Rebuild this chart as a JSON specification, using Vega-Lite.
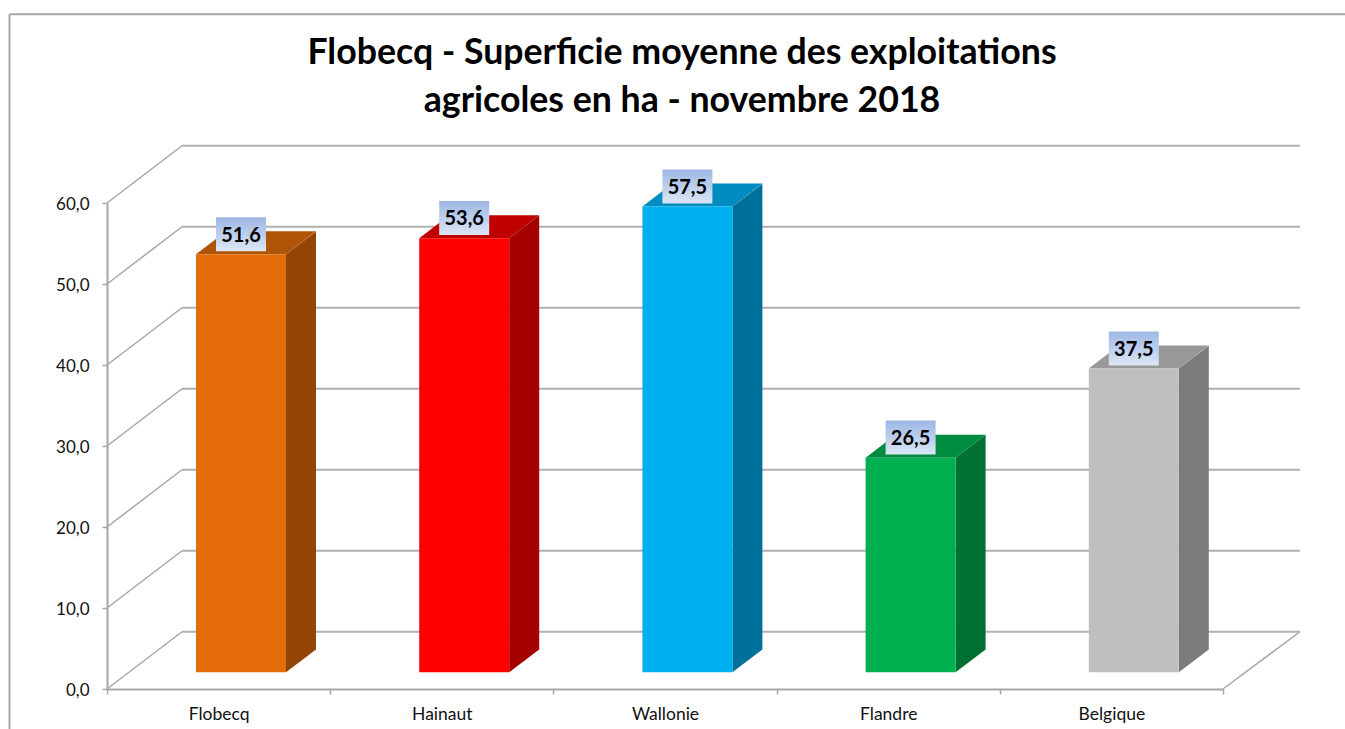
{
"$schema":"https://vega.github.io/schema/vega-lite/v6.json",
"width":1116,"height":486,
"autosize":{"type":"none"},
"padding":{"left":107,"top":203,"right":122,"bottom":40},
"background":"white",
"config":{"view":{"stroke":null},"font":"Lato"},
"title":{"text":["Flobecq - Superficie moyenne des exploitations","agricoles en ha - novembre 2018"],"font":"Lato","fontSize":35.7,"fontWeight":"bold","color":"#000000","anchor":"middle","frame":"group","dx":17,"offset":-106,"lineHeight":48},
"datasets":{
"zones":[
{"zone":"Flobecq","valeur":51.6},
{"zone":"Hainaut","valeur":53.6},
{"zone":"Wallonie","valeur":57.5},
{"zone":"Flandre","valeur":26.5},
{"zone":"Belgique","valeur":37.5}],
"grille":[{"v":0},{"v":10},{"v":20},{"v":30},{"v":40},{"v":50},{"v":60}]
},
"resolve":{"scale":{"x":"independent","color":"independent"}},
"layer":[
{"data":{"values":[{"a":1}]},
 "mark":{"type":"rule","color":"#a6a6a6","strokeWidth":2},
 "encoding":{
  "x":{"datum":-97.5,"type":"quantitative","scale":{"domain":[0,1116],"nice":false,"zero":false},"axis":null},
  "y":{"datum":-5.1,"type":"quantitative","scale":{"domain":[0,60],"nice":false,"zero":false},"axis":{"title":null}},
  "y2":{"datum":83.3}}},
{"data":{"values":[{"a":1}]},
 "mark":{"type":"rule","color":"#a6a6a6","strokeWidth":2},
 "encoding":{
  "x":{"datum":-97.5,"type":"quantitative","scale":{"domain":[0,1116],"nice":false,"zero":false},"axis":null},
  "x2":{"datum":1238},
  "y":{"datum":83.3,"type":"quantitative","scale":{"domain":[0,60],"nice":false,"zero":false},"axis":{"title":null}}}},
{"data":{"name":"grille"},
 "transform":[{"calculate":"datum.v+7.07","as":"fond"}],
 "mark":{"type":"rule","color":"#a6a6a6","strokeWidth":1.5},
 "encoding":{
  "x":{"datum":0,"type":"quantitative","scale":{"domain":[0,1116],"nice":false,"zero":false},"axis":null},
  "x2":{"datum":75},
  "y":{"field":"v","type":"quantitative","scale":{"domain":[0,60],"nice":false,"zero":false},"axis":{"title":null}},
  "y2":{"field":"fond"}}},
{"data":{"name":"grille"},
 "transform":[{"calculate":"datum.v+7.07","as":"fond"}],
 "mark":{"type":"rule","color":"#b0b0b0","strokeWidth":2},
 "encoding":{
  "x":{"datum":75,"type":"quantitative","scale":{"domain":[0,1116],"nice":false,"zero":false},"axis":null},
  "x2":{"datum":1193},
  "y":{"field":"fond","type":"quantitative","scale":{"domain":[0,60],"nice":false,"zero":false},"axis":{"title":null}}}},
{"data":{"values":[{"a":1}]},
 "mark":{"type":"rule","color":"#a6a6a6","strokeWidth":1.5},
 "encoding":{
  "x":{"datum":1116,"type":"quantitative","scale":{"domain":[0,1116],"nice":false,"zero":false},"axis":null},
  "x2":{"datum":1193},
  "y":{"datum":0,"type":"quantitative","scale":{"domain":[0,60],"nice":false,"zero":false},"axis":{"title":null}},
  "y2":{"datum":7.07}}},
{"data":{"name":"zones"},
 "transform":[
  {"window":[{"op":"row_number","as":"rang"}]},
  {"calculate":"(datum.rang-1)*223.2+179","as":"px0"},
  {"calculate":"datum.px0+30","as":"px1"},
  {"calculate":"datum.valeur+2.06","as":"h0"},
  {"calculate":"datum.valeur+4.89","as":"h1"},
  {"fold":["px0","px1"],"as":["bord","px"]},
  {"calculate":"datum.bord=='px0'?datum.h0:datum.h1","as":"haut"},
  {"calculate":"datum.bord=='px0'?2.06:4.89","as":"bas"}],
 "mark":{"type":"area","orient":"vertical","opacity":1},
 "encoding":{
  "x":{"field":"px","type":"quantitative","scale":{"domain":[0,1116],"nice":false,"zero":false},"axis":null},
  "y":{"field":"haut","type":"quantitative","scale":{"domain":[0,60],"nice":false,"zero":false},"axis":{"title":null}},
  "y2":{"field":"bas"},
  "color":{"field":"zone","type":"nominal","legend":null,"scale":{"domain":["Flobecq","Hainaut","Wallonie","Flandre","Belgique"],"range":["#934505","#a50000","#00719b","#007033","#7b7b7b"]}}}},
{"data":{"name":"zones"},
 "mark":{"type":"point","shape":"M-45,0L45,0L75,-23L-15,-23Z","filled":true,"size":4,"opacity":1,"strokeWidth":0,"xOffset":22.4,"yOffset":-16.7},
 "encoding":{
  "x":{"field":"zone","type":"nominal","sort":null,"scale":{"paddingInner":0,"paddingOuter":0},"axis":null},
  "y":{"field":"valeur","type":"quantitative","scale":{"domain":[0,60],"nice":false,"zero":false},"axis":{"title":null}},
  "color":{"field":"zone","type":"nominal","legend":null,"scale":{"domain":["Flobecq","Hainaut","Wallonie","Flandre","Belgique"],"range":["#b05407","#c00000","#008cc0","#008c40","#989898"]}}}},
{"data":{"name":"zones"},
 "transform":[{"calculate":"datum.valeur+2.06","as":"sommet"}],
 "mark":{"type":"bar","size":90,"xOffset":22.4},
 "encoding":{
  "x":{"field":"zone","type":"nominal","sort":null,"scale":{"paddingInner":0,"paddingOuter":0},
   "axis":{"title":null,"labelAngle":0,"labelFont":"Lato","labelFontSize":17.5,"labelColor":"#111111","labelPadding":11,"tickBand":"extent","tickSize":5,"tickColor":"#a6a6a6","tickWidth":1.5,"domainColor":"#a6a6a6","domainWidth":2,"grid":false}},
  "y":{"field":"sommet","type":"quantitative","stack":null,"scale":{"domain":[0,60],"nice":false,"zero":false},
   "axis":{"title":null,"values":[0,10,20,30,40,50,60],"labelExpr":"replace(format(datum.value,'.1f'),'.',',')","labelFont":"Lato","labelFontSize":17,"labelColor":"#111111","labelPadding":13,"labelOffset":1,"tickSize":5,"tickColor":"#a6a6a6","tickWidth":1.5,"domainColor":"#a6a6a6","domainWidth":2,"grid":false}},
  "y2":{"datum":2.06},
  "color":{"field":"zone","type":"nominal","legend":null,"scale":{"domain":["Flobecq","Hainaut","Wallonie","Flandre","Belgique"],"range":["#e46c0a","#ff0000","#00b0f0","#00b050","#bfbfbf"]}}}},
{"data":{"name":"zones"},
 "mark":{"type":"point","shape":"M-25,-17L25,-17L25,17L-25,17Z","filled":true,"size":4,"opacity":1,"strokeWidth":0,"xOffset":22.4,"yOffset":-36.8,
  "fill":{"gradient":"linear","x1":0,"y1":0,"x2":0,"y2":1,"stops":[{"offset":0,"color":"#9db7e4"},{"offset":1,"color":"#dce6f5"}]}},
 "encoding":{
  "x":{"field":"zone","type":"nominal","sort":null,"scale":{"paddingInner":0,"paddingOuter":0},"axis":null},
  "y":{"field":"valeur","type":"quantitative","scale":{"domain":[0,60],"nice":false,"zero":false},"axis":{"title":null}}}},
{"data":{"name":"zones"},
 "transform":[{"calculate":"replace(format(datum.valeur,'.1f'),'.',',')","as":"etiquette"}],
 "mark":{"type":"text","font":"Lato","fontWeight":"bold","fontSize":20,"color":"#000000","align":"center","baseline":"middle","xOffset":22.4,"yOffset":-35.5},
 "encoding":{
  "x":{"field":"zone","type":"nominal","sort":null,"scale":{"paddingInner":0,"paddingOuter":0},"axis":null},
  "y":{"field":"valeur","type":"quantitative","scale":{"domain":[0,60],"nice":false,"zero":false},"axis":{"title":null}},
  "text":{"field":"etiquette"}}}
]
}
